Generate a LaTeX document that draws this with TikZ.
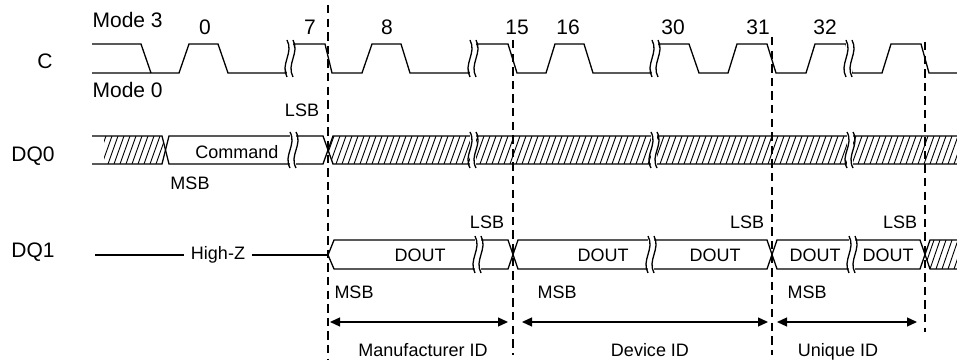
\documentclass[tikz,border=0pt]{standalone}
\usepackage{fontspec}
\setmainfont{Liberation Sans}
\usetikzlibrary{arrows.meta}

% break mark across one signal: x, top, bottom
\newcommand{\wavebreak}[3]{
  \fill[white] (#1-3,#2-1) rectangle (#1+3,#3+1);
  \draw (#1-3,#2-4) .. controls (#1+4,#2+9) and (#1-10,#3-9) .. (#1-3,#3+4);
  \draw (#1+3,#2-4) .. controls (#1+10,#2+9) and (#1-4,#3-9) .. (#1+3,#3+4);
}
\newcommand{\markers}{
  \coordinate (m0top) at (328,5);   \coordinate (m0bot) at (328,360);
  \coordinate (m1top) at (513,40);  \coordinate (m1bot) at (513,355);
  \coordinate (m2top) at (772,37);  \coordinate (m2bot) at (772,355);
  \coordinate (m3top) at (925,42);  \coordinate (m3bot) at (925,332);

  \coordinate (mfrL) at (330,322);  \coordinate (mfrR) at (508,322);
  \coordinate (devL) at (522,322);  \coordinate (devR) at (768,322);
  \coordinate (uidL) at (777,322);  \coordinate (uidR) at (917,322);
}

\begin{document}
\begin{tikzpicture}[x=0.5pt,y=-0.5pt,line width=0.65pt,
    every node/.style={font=\fontsize{9}{10}\selectfont,inner sep=1pt},
    big/.style={font=\fontsize{10.5}{12}\selectfont},
    hatch/.style={line width=0.45pt},
    marker/.style={line width=0.65pt,dash pattern=on 4.2pt off 2.6pt},
    idarrow/.style={line width=0.65pt,{Triangle[length=5pt,width=4.5pt]}-{Triangle[length=5pt,width=4.5pt]}}]
  \useasboundingbox (0,0) rectangle (957,362);
  \markers;

  % signal names
  \node[big] (lblC)   at (45,61)  {C};
  \node[big] (lblDQ0) at (33,156) {DQ0};
  \node[big] (lblDQ1) at (33,252) {DQ1};

  % clock
  \node[big,anchor=west] (mode3) at (90,20) {Mode 3};
  \node[big,anchor=west] (mode0) at (90,90) {Mode 0};
  \draw (92,44) -- (141,44) -- (151,73);
  \draw (92,73) -- (179,73) -- (189,44) -- (218,44) -- (228,73) -- (287,73)
        -- (293,44) -- (325,44) -- (332,73) -- (362,73) -- (372,44) -- (401,44)
        -- (410,73) -- (470,73) -- (476,44) -- (508,44) -- (517,73) -- (546,73)
        -- (555,44) -- (584,44) -- (593,73) -- (652,73) -- (658,44) -- (689,44)
        -- (699,73) -- (728,73) -- (737,44) -- (767,44) -- (776,73) -- (806,73)
        -- (815,44) -- (846,44) -- (852,73) -- (882,73) -- (891,44) -- (921,44)
        -- (929,73) -- (957,73);
  \foreach \x/\t in {205/0,310/7,387/8,517/15,568/16,673/30,758/31,825/32}
    \node[big] (clk\t) at (\x,27) {\t};

  % DQ0
  \begin{scope}
    \clip (104,136) -- (162,136) -- (165.5,150) -- (162,164) -- (104,164) -- cycle
          (327.5,150) -- (333,136) -- (957,136) -- (957,164) -- (333,164) -- cycle;
    \foreach \x in {96,102,...,960}
      \draw[hatch] (\x,164) -- (\x+10,136);
  \end{scope}
  \draw (92,136) -- (162,136) -- (169,164) -- (323,164) -- (333,136) -- (957,136);
  \draw (92,164) -- (162,164) -- (169,136) -- (323,136) -- (333,164) -- (957,164);
  \node (cmd) at (237,152) {Command};

  % DQ1
  \begin{scope}
    \clip (925,254.5) -- (930,240) -- (957,240) -- (957,269) -- (930,269) -- cycle;
    \foreach \x in {912,918,...,960}
      \draw[hatch] (\x,269) -- (\x+10,240);
  \end{scope}
  \coordinate (dq1start) at (95,255);
  \coordinate (dq1out) at (328,255);
  \node[fill=white,inner sep=3pt] (hiz) at (218,255) {High-Z};
  \draw (dq1start) -- (hiz);
  \draw (hiz) -- (dq1out);
  \draw (dq1out) -- (334,240) -- (508,240) -- (518,269) -- (767,269) -- (777,240)
        -- (920,240) -- (930,269) -- (957,269);
  \draw (dq1out) -- (334,269) -- (508,269) -- (518,240) -- (767,240) -- (777,269)
        -- (920,269) -- (930,240) -- (957,240);
  \foreach \x/\n in {420/a,603/b,715/c,815/d,888/e}
    \node (dout\n) at (\x,255) {DOUT};

  % breaks
  \foreach \x in {290,473,655,849} \wavebreak{\x}{44}{73};
  \foreach \x in {293,473,654,850} \wavebreak{\x}{136}{164};
  \foreach \x in {478,651,852} \wavebreak{\x}{240}{269};

  % markers
  \draw[marker] (m0top) -- (m0bot);
  \draw[marker] (m1top) -- (m1bot);
  \draw[marker] (m2top) -- (m2bot);
  \draw[marker] (m3top) -- (m3bot);

  \node (lsb0) at (302,110) {LSB};
  \node (msb0) at (190,183) {MSB};
  \node (lsb1) at (487,222) {LSB};
  \node (lsb2) at (747,222) {LSB};
  \node (lsb3) at (900,222) {LSB};
  \node (msb1) at (354,292) {MSB};
  \node (msb2) at (557,292) {MSB};
  \node (msb3) at (807,292) {MSB};

  % ID fields
  \draw[idarrow] (mfrL) -- (mfrR);
  \draw[idarrow] (devL) -- (devR);
  \draw[idarrow] (uidL) -- (uidR);
  \node[anchor=base] (mfr) at (423,357) {Manufacturer ID};
  \node[anchor=base] (dev) at (650,357) {Device ID};
  \node[anchor=base] (uid) at (838,357) {Unique ID};
\end{tikzpicture}
\end{document}
